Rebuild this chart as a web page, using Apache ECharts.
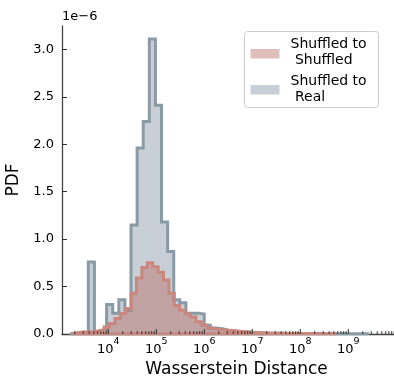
<!DOCTYPE html>
<html><head><meta charset="utf-8">
<script src="https://cdn.jsdelivr.net/npm/echarts@6/dist/echarts.min.js"></script>
<style>html,body{margin:0;padding:0;background:#fff}#c{width:394px;height:390px}</style>
</head><body><div id="c"></div>
<script>
// ---- data (densities in units of 1e-6, bins uniform in log10 distance) ----
const seriesNames = ['Shuffled to\n Shuffled', 'Shuffled to\n Real'];
// "Shuffled to Real" histogram
const realBinStartLog10 = 3.202;
const realBinWidthLog10 = 0.1271;
const realDensity = [0.01, 0.01, 0.005, 0.76, 0, 0, 0.31, 0.22, 0.36, 0.25,
  1.15, 1.96, 2.24, 3.11, 2.41, 1.18, 0.87, 0.36, 0.33, 0.22,
  0.22, 0.21, 0.093, 0.064, 0.055, 0.04, 0.034, 0.022, 0.02, 0.015,
  0.012, 0.01, 0.009, 0.008, 0.007, 0.006, 0.006, 0.005, 0.005, 0.004,
  0.004, 0.003, 0.003, 0.003, 0.002, 0.002, 0.002, 0.002, 0.002];
// "Shuffled to Shuffled" histogram
const shufBinStartLog10 = 3.2375;
const shufBinWidthLog10 = 0.1125;
const shufDensity = [0.01, 0.02, 0.02, 0.025, 0.035, 0.045, 0.075, 0.11, 0.164, 0.216,
  0.27, 0.43, 0.59, 0.70, 0.75, 0.71, 0.65, 0.57, 0.43, 0.30,
  0.25, 0.21, 0.18, 0.13, 0.095, 0.063, 0.05, 0.045, 0.04, 0.036,
  0.03, 0.025, 0.02, 0.016, 0.013, 0.011, 0.009, 0.008, 0.007, 0.006,
  0.005, 0.004, 0.004, 0.003, 0.003, 0.002, 0.002, 0.002, 0.002];
const xTickExponents = [4, 5, 6, 7, 8, 9];
const yTickValues = [0, 0.5, 1.0, 1.5, 2.0, 2.5, 3.0];
const xLogMin = 3.035, xLogMax = 10.306, yMax = 3.246;

// ---- build ----
function stepPoints(start, width, dens) {
  const pts = [[Math.pow(10, start), 0]];
  dens.forEach((d, k) => pts.push([Math.pow(10, start + k * width), d * 1e-6]));
  pts.push([Math.pow(10, start + dens.length * width), 0]);
  pts.push([Math.pow(10, start), 0]);
  return pts;
}
const majorTicks = xTickExponents.concat([10]).map(e => [Math.pow(10, e), 5]);
const minorTicks = [];
for (let e = 3; e <= 10; e++) for (let m = 2; m <= 9; m++) {
  const v = m * Math.pow(10, e);
  const lv = Math.log10(v);
  if (lv > xLogMin && lv < xLogMax) minorTicks.push([v, 2.8]);
}
const FONT = 'DejaVu Sans';
const tickRender = (params, api) => {
  const p = api.coord([api.value(0), 0]);
  const len = api.value(1);
  return {type: 'line', shape: {x1: p[0], y1: p[1], x2: p[0], y2: p[1] - len},
    style: {stroke: '#333', lineWidth: 1}};
};
const chart = echarts.init(document.getElementById('c'), null, {renderer: 'canvas'});
chart.setOption({
  animation: false,
  textStyle: {fontFamily: FONT},
  grid: {left: 62, right: -17, top: 26, bottom: 56, outerBoundsMode: 'none', containLabel: false},
  xAxis: {
    type: 'log', logBase: 10, min: Math.pow(10, xLogMin), max: Math.pow(10, xLogMax),
    axisLine: {show: true, lineStyle: {color: '#444', width: 1.3}},
    axisTick: {show: false},
    splitLine: {show: false}, minorTick: {show: false}, minorSplitLine: {show: false},
    axisLabel: {
      customValues: xTickExponents.map(e => Math.pow(10, e)),
      margin: 3,
      formatter: v => '{b|10}{s|' + Math.round(Math.log10(v)) + '}',
      rich: {
        b: {fontSize: 13, color: '#000', fontFamily: FONT, verticalAlign: 'bottom', lineHeight: 19},
        s: {fontSize: 9.5, color: '#000', fontFamily: FONT, verticalAlign: 'top', lineHeight: 11}
      }
    },
    name: 'Wasserstein Distance', nameLocation: 'middle', nameGap: 27,
    nameTextStyle: {fontSize: 17, color: '#000', fontFamily: FONT}
  },
  yAxis: {
    type: 'value', min: 0, max: yMax * 1e-6,
    axisLine: {show: true, lineStyle: {color: '#444', width: 1.3}},
    axisTick: {inside: true, length: 5, lineStyle: {color: '#333'}, customValues: yTickValues.map(v => v * 1e-6)},
    axisLabel: {customValues: yTickValues.map(v => v * 1e-6), formatter: v => (v / 1e-6).toFixed(1),
      fontSize: 13, color: '#000', margin: 8, fontFamily: FONT},
    splitLine: {show: false},
    name: 'PDF', nameLocation: 'middle', nameGap: 38,
    nameTextStyle: {fontSize: 17, color: '#000', fontFamily: FONT}
  },
  series: [
    {
      name: seriesNames[1], type: 'line', step: 'end', symbol: 'none', z: 2,
      data: stepPoints(realBinStartLog10, realBinWidthLog10, realDensity),
      lineStyle: {color: '#8a9ba5', width: 3, join: 'miter'},
      areaStyle: {color: 'rgb(119,136,153)', opacity: 0.4}
    },
    {
      name: seriesNames[0], type: 'line', step: 'end', symbol: 'none', z: 3,
      data: stepPoints(shufBinStartLog10, shufBinWidthLog10, shufDensity),
      lineStyle: {color: '#c9877d', width: 3, join: 'miter'},
      areaStyle: {color: 'rgb(183,111,105)', opacity: 0.45}
    },
    {type: 'custom', renderItem: tickRender, data: majorTicks, z: 5, silent: true, clip: false},
    {type: 'custom', renderItem: tickRender, data: minorTicks, z: 5, silent: true, clip: false}
  ],
  graphic: [
    {type: 'text', left: 62, top: 10, style: {text: '1e\u22126', fontSize: 13, fill: '#000', fontFamily: FONT}},
    {type: 'group', left: 244, top: 31, children: [
      {type: 'rect', shape: {x: 0, y: 0, width: 134, height: 76, r: 3},
        style: {fill: 'rgba(255,255,255,0.8)', stroke: '#cccccc', lineWidth: 1}},
      {type: 'rect', shape: {x: 6, y: 17.5, width: 29, height: 9.5},
        style: {fill: 'rgba(183,111,105,0.45)'}},
      {type: 'rect', shape: {x: 6, y: 53.5, width: 29, height: 9.5},
        style: {fill: 'rgba(119,136,153,0.4)'}},
      {type: 'text', x: 46, y: 5, style: {text: seriesNames[0], fontSize: 14, lineHeight: 16, fill: '#000', fontFamily: FONT}},
      {type: 'text', x: 46, y: 42, style: {text: seriesNames[1], fontSize: 14, lineHeight: 16, fill: '#000', fontFamily: FONT}}
    ]}
  ]
});
</script></body></html>
